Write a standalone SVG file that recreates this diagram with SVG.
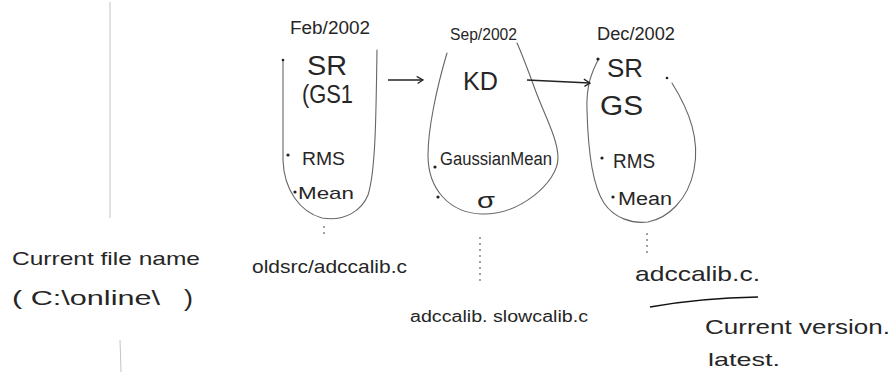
<svg xmlns="http://www.w3.org/2000/svg" width="892" height="372" viewBox="0 0 892 372">
  <defs>
    <style>
      .t { font-family: "Liberation Sans", "DejaVu Sans", sans-serif; fill: #262626; }
      .blob { fill: none; stroke: #666; stroke-width: 1.1; stroke-linecap: round; }
      .dot { fill: #222; }
      .dash { fill: none; stroke: #666; stroke-width: 1.2; stroke-dasharray: 2 4; }
      .arrow { fill: none; stroke: #222; stroke-width: 1.4; marker-end: url(#hook); }
      .faint { fill: none; stroke: #c4c4c4; stroke-width: 1; }
    </style>
    <marker id="hook" viewBox="0 0 10 10" refX="9" refY="5" markerWidth="9" markerHeight="9" markerUnits="userSpaceOnUse" orient="auto">
      <path d="M2,1 L9,5 L3,9" fill="none" stroke="#222" stroke-width="1.4"/>
    </marker>
  </defs>
  <rect width="892" height="372" fill="#ffffff"/>

  <!-- faint margin lines -->
  <g id="margin">
    <path class="faint" d="M110,2 L110,218"/>
    <path class="faint" d="M120,340 L121,372" stroke="#888"/>
  </g>

  <g id="node-feb">
    <text class="t" x="290" y="34" font-size="18" textLength="80" lengthAdjust="spacingAndGlyphs">Feb/2002</text>
    <path class="blob" d="M283,60 L283,160 C284,190 300,212 322,218 C345,222 362,210 368,195 C376,170 376,110 377,50"/>
    <circle class="dot" cx="283" cy="60" r="1.3"/>
    <text class="t" x="307" y="75" font-size="28" textLength="40" lengthAdjust="spacingAndGlyphs">SR</text>
    <text class="t" x="302" y="103" font-size="26" textLength="51" lengthAdjust="spacingAndGlyphs">(GS1</text>
    <circle class="dot" cx="288" cy="155" r="1.6"/>
    <text class="t" x="302" y="165" font-size="18" textLength="43" lengthAdjust="spacingAndGlyphs">RMS</text>
    <circle class="dot" cx="295" cy="192" r="1.6"/>
    <text class="t" x="298" y="199" font-size="17" textLength="56" lengthAdjust="spacingAndGlyphs">Mean</text>
  </g>

  <g id="node-sep">
    <text class="t" x="450" y="40" font-size="16" textLength="67" lengthAdjust="spacingAndGlyphs">Sep/2002</text>
    <path class="blob" d="M447,53 C436,90 428,130 428,155 C428,190 450,213 482,214 C520,215 558,182 558,158 C558,140 546,118 536,92 C528,70 522,54 517,43"/>
    <text class="t" x="463" y="90" font-size="26" textLength="35" lengthAdjust="spacingAndGlyphs">KD</text>
    <circle class="dot" cx="435" cy="167" r="1.6"/>
    <text class="t" x="440" y="165" font-size="18" textLength="112" lengthAdjust="spacingAndGlyphs">GaussianMean</text>
    <circle class="dot" cx="438" cy="197" r="1.6"/>
    <text class="t" x="477" y="208" font-size="22" textLength="18" lengthAdjust="spacingAndGlyphs">σ</text>
  </g>

  <g id="node-dec">
    <text class="t" x="597" y="40" font-size="18" textLength="78" lengthAdjust="spacingAndGlyphs">Dec/2002</text>
    <path class="blob" d="M598,60 C592,72 586,85 587,110 C588,150 592,185 604,203 C614,218 632,224 648,222 C668,218 688,200 694,170 C700,140 690,112 672,83"/>
    <circle class="dot" cx="598" cy="59" r="1.6"/>
    <text class="t" x="607" y="77" font-size="26" textLength="36" lengthAdjust="spacingAndGlyphs">SR</text>
    <circle class="dot" cx="667" cy="78" r="1.3"/>
    <text class="t" x="600" y="115" font-size="27" textLength="43" lengthAdjust="spacingAndGlyphs">GS</text>
    <circle class="dot" cx="602" cy="158" r="1.6"/>
    <text class="t" x="613" y="168" font-size="20" textLength="42" lengthAdjust="spacingAndGlyphs">RMS</text>
    <circle class="dot" cx="613" cy="197" r="1.6"/>
    <text class="t" x="618" y="205" font-size="18" textLength="54" lengthAdjust="spacingAndGlyphs">Mean</text>
  </g>

  <g id="connectors">
    <path class="arrow" d="M388,80 L423,80"/>
    <path class="arrow" d="M527,80 L590,83"/>
    <path class="dash" d="M324,226 L324,237"/>
    <path class="dash" d="M480,237 L480,284"/>
    <path class="dash" d="M647,233 L647,253"/>
    <path d="M650,307 Q700,298 758,297" fill="none" stroke="#111" stroke-width="1.6"/>
  </g>

  <g id="labels">
    <text class="t" x="12" y="265" font-size="19" textLength="188" lengthAdjust="spacingAndGlyphs">Current file name</text>
    <text class="t" x="12" y="305" font-size="21" textLength="148" lengthAdjust="spacingAndGlyphs">( C:\online\</text>
    <text class="t" x="184" y="306" font-size="24" textLength="9" lengthAdjust="spacingAndGlyphs">)</text>
    <text class="t" x="252" y="273" font-size="19" textLength="155" lengthAdjust="spacingAndGlyphs">oldsrc/adccalib.c</text>
    <text class="t" x="410" y="322" font-size="16" textLength="178" lengthAdjust="spacingAndGlyphs">adccalib. slowcalib.c</text>
    <text class="t" x="635" y="281" font-size="21" textLength="125" lengthAdjust="spacingAndGlyphs">adccalib.c.</text>
    <text class="t" x="705" y="334" font-size="20" textLength="185" lengthAdjust="spacingAndGlyphs">Current version.</text>
    <text class="t" x="708" y="366" font-size="19" textLength="72" lengthAdjust="spacingAndGlyphs">latest.</text>
  </g>
</svg>
